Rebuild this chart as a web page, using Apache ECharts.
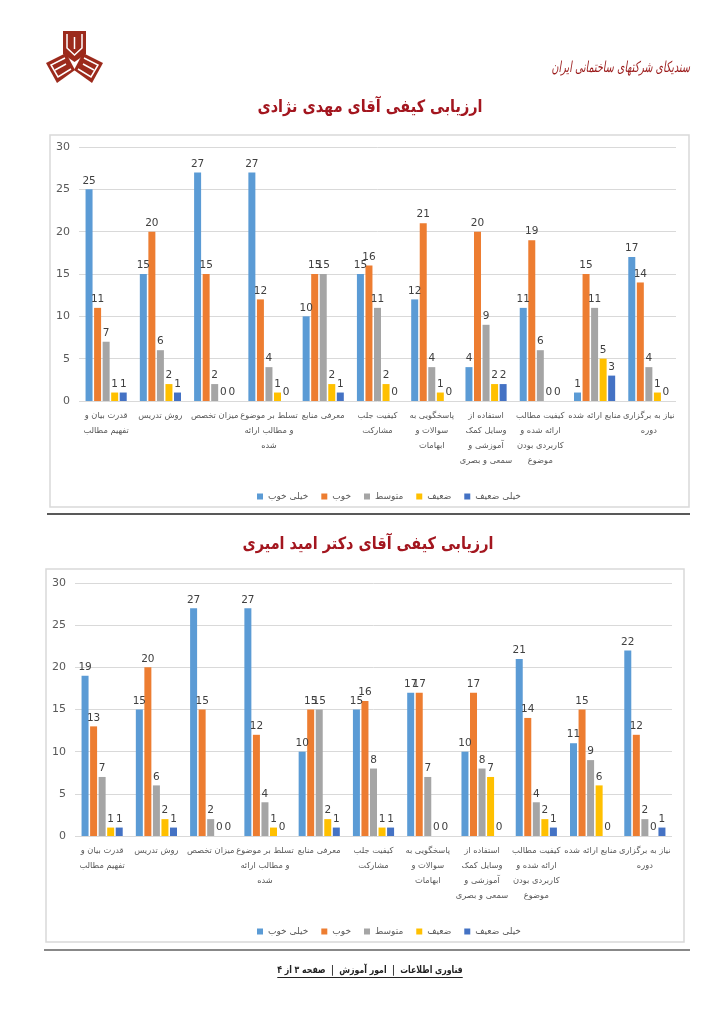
<!DOCTYPE html>
<html>
<head>
<meta charset="utf-8">
<script src="https://cdn.jsdelivr.net/npm/echarts@6/dist/echarts.min.js"></script>
<style>
html, body { margin: 0; padding: 0; background: #fff; }
#page { width: 724px; height: 1024px; }
</style>
</head>
<body>
<div id="page"></div>
<script>
// categories (same for both teachers)
var categories = [
    "قدرت بیان و\nتفهیم مطالب",
    "روش تدریس",
    "میزان تخصص",
    "تسلط بر موضوع\nو مطالب ارائه\nشده",
    "معرفی منابع",
    "کیفیت جلب\nمشارکت",
    "پاسخگویی به\nسوالات و\nابهامات",
    "استفاده از\nوسایل کمک\nآموزشی و\nسمعی و بصری",
    "کیفیت مطالب\nارائه شده و\nکاربردی بودن\nموضوع",
    "منابع ارائه شده",
    "نیاز به برگزاری\nدوره"
];
var seriesNames = ["خیلی خوب", "خوب", "متوسط", "ضعیف", "خیلی ضعیف"];
var seriesColors = ["#5b9bd5", "#ed7d31", "#a5a5a5", "#ffc000", "#4472c4"];
var yTicks = [0, 5, 10, 15, 20, 25, 30];

// آقای مهدی نژادی
var mehdiVeryGood = [25, 15, 27, 27, 10, 15, 12, 4, 11, 1, 17];
var mehdiGood     = [11, 20, 15, 12, 15, 16, 21, 20, 19, 15, 14];
var mehdiMedium   = [7, 6, 2, 4, 15, 11, 4, 9, 6, 11, 4];
var mehdiWeak     = [1, 2, 0, 1, 2, 2, 1, 2, 0, 5, 1];
var mehdiVeryWeak = [1, 1, 0, 0, 1, 0, 0, 2, 0, 3, 0];

// آقای دکتر امید امیری
var omidVeryGood = [19, 15, 27, 27, 10, 15, 17, 10, 21, 11, 22];
var omidGood     = [13, 20, 15, 12, 15, 16, 17, 17, 14, 15, 12];
var omidMedium   = [7, 6, 2, 4, 15, 8, 7, 8, 4, 9, 2];
var omidWeak     = [1, 2, 0, 1, 2, 1, 0, 7, 2, 6, 0];
var omidVeryWeak = [1, 1, 0, 0, 1, 1, 0, 0, 1, 0, 1];

var mehdiData = [mehdiVeryGood, mehdiGood, mehdiMedium, mehdiWeak, mehdiVeryWeak];
var omidData = [omidVeryGood, omidGood, omidMedium, omidWeak, omidVeryWeak];

var FONT = "DejaVu Sans";
var RED = "#a3161f";
var footerText = "فناوری اطلاعات  |  امور آموزش  |  صفحه ۳ از ۴";
var footerFont = "bold 10px 'DejaVu Sans'";
var footerScale = 0.78;

// footer width, for the underline
var ctx = document.createElement("canvas").getContext("2d");
ctx.font = footerFont;
var footerW = ctx.measureText(footerText).width * footerScale;

var chart = echarts.init(document.getElementById("page"), null, { renderer: "canvas" });

function makeSeries(data, idx) {
    return data.map(function (vals, i) {
        return {
            name: seriesNames[i],
            type: "bar",
            xAxisIndex: idx,
            yAxisIndex: idx,
            data: vals,
            barWidth: 7,
            barGap: "22%",
            itemStyle: { color: seriesColors[i] },
            label: {
                show: true,
                position: "top",
                distance: 3,
                color: "#404040",
                fontSize: 10.5,
                fontFamily: FONT
            }
        };
    });
}

function xAxisFor(idx) {
    return {
        type: "category",
        gridIndex: idx,
        data: categories,
        axisLine: { show: false },
        axisTick: { show: false },
        axisLabel: {
            interval: 0,
            color: "#595959",
            fontSize: 8.3,
            lineHeight: 15,
            fontFamily: FONT,
            margin: 7,
            verticalAlign: "top"
        }
    };
}

function yAxisFor(idx) {
    return {
        type: "value",
        gridIndex: idx,
        min: yTicks[0],
        max: yTicks[yTicks.length - 1],
        interval: 5,
        axisLine: { show: false },
        axisTick: { show: false },
        axisLabel: { color: "#595959", fontSize: 11, fontFamily: FONT, margin: 9 },
        splitLine: { lineStyle: { color: "#d9d9d9", width: 1 } }
    };
}

function legendFor(top) {
    return {
        data: seriesNames,
        top: top,
        left: 252,
        itemWidth: 6,
        itemHeight: 6,
        itemGap: 13,
        icon: "rect",
        textStyle: { color: "#595959", fontSize: 9, fontFamily: FONT }
    };
}

var option = {
    backgroundColor: "#fff",
    animation: false,
    textStyle: { fontFamily: FONT },
    grid: [
        { left: 79, right: 48, top: 147, height: 254 },
        { left: 75, right: 52, top: 583, height: 253 }
    ],
    xAxis: [xAxisFor(0), xAxisFor(1)],
    yAxis: [yAxisFor(0), yAxisFor(1)],
    legend: [legendFor(487), legendFor(922)],
    series: makeSeries(mehdiData, 0).concat(makeSeries(omidData, 1)),
    graphic: [
        // logo
        {
            type: "group",
            left: 46,
            top: 31,
            children: [
                { type: "polygon", shape: { points: [[17, 0], [40, 0], [40, 23], [28.5, 31], [17, 23]] }, style: { fill: "#9c2a1c" } },
                { type: "polygon", shape: { points: [[0, 32], [20, 22], [29, 39], [11, 52]] }, style: { fill: "#9c2a1c" } },
                { type: "polygon", shape: { points: [[57, 32], [37, 22], [28, 39], [46, 52]] }, style: { fill: "#9c2a1c" } },
                { type: "polyline", shape: { points: [[21, 3], [21, 17], [28.5, 24], [36, 17], [36, 3]] }, style: { stroke: "#fff", lineWidth: 1.5, fill: null } },
                { type: "polyline", shape: { points: [[28.5, 6], [28.5, 18]] }, style: { stroke: "#fff", lineWidth: 1.5 } },
                { type: "polyline", shape: { points: [[19, 27], [5, 34], [12, 46], [25, 38]] }, style: { stroke: "#fff", lineWidth: 1.5, fill: null } },
                { type: "polyline", shape: { points: [[9, 39], [20, 33]] }, style: { stroke: "#fff", lineWidth: 1.5 } },
                { type: "polyline", shape: { points: [[38, 27], [52, 34], [45, 46], [32, 38]] }, style: { stroke: "#fff", lineWidth: 1.5, fill: null } },
                { type: "polyline", shape: { points: [[48, 39], [37, 33]] }, style: { stroke: "#fff", lineWidth: 1.5 } }
            ]
        },
        {
            type: "text",
            x: 690,
            y: 68,
            scaleX: 0.64,
            style: {
                text: "سندیکای شرکتهای ساختمانی ایران",
                fill: "#9b1b1b",
                font: "italic 15px 'DejaVu Sans'",
                textAlign: "right",
                textVerticalAlign: "middle"
            }
        },
        // title 1
        {
            type: "text",
            x: 370,
            y: 108,
            scaleX: 0.85,
            style: { text: "ارزیابی کیفی آقای مهدی نژادی", fill: RED, font: "bold 17px 'DejaVu Sans'", textAlign: "center", textVerticalAlign: "middle" }
        },
        // chart 1 frame
        {
            type: "rect",
            shape: { x: 50, y: 135, width: 639, height: 372 },
            style: { fill: "none", stroke: "#d9d9d9", lineWidth: 1.5 },
            silent: true
        },
        {
            type: "line",
            shape: { x1: 47, y1: 514, x2: 690, y2: 514 },
            style: { stroke: "#222", lineWidth: 1.5 }
        },
        // title 2
        {
            type: "text",
            x: 368,
            y: 545,
            scaleX: 0.85,
            style: { text: "ارزیابی کیفی آقای دکتر امید امیری", fill: RED, font: "bold 17px 'DejaVu Sans'", textAlign: "center", textVerticalAlign: "middle" }
        },
        // chart 2 frame
        {
            type: "rect",
            shape: { x: 46, y: 569, width: 638, height: 373 },
            style: { fill: "none", stroke: "#d9d9d9", lineWidth: 1.5 },
            silent: true
        },
        {
            type: "line",
            shape: { x1: 44, y1: 950, x2: 690, y2: 950 },
            style: { stroke: "#888", lineWidth: 2 }
        },
        // footer
        {
            type: "text",
            x: 370,
            y: 970,
            scaleX: footerScale,
            style: { text: footerText, fill: "#222", font: footerFont, textAlign: "center", textVerticalAlign: "middle" }
        },
        {
            type: "line",
            shape: { x1: 370 - footerW / 2, y1: 977.5, x2: 370 + footerW / 2, y2: 977.5 },
            style: { stroke: "#222", lineWidth: 1 }
        }
    ]
};

chart.setOption(option);
</script>
</body>
</html>
